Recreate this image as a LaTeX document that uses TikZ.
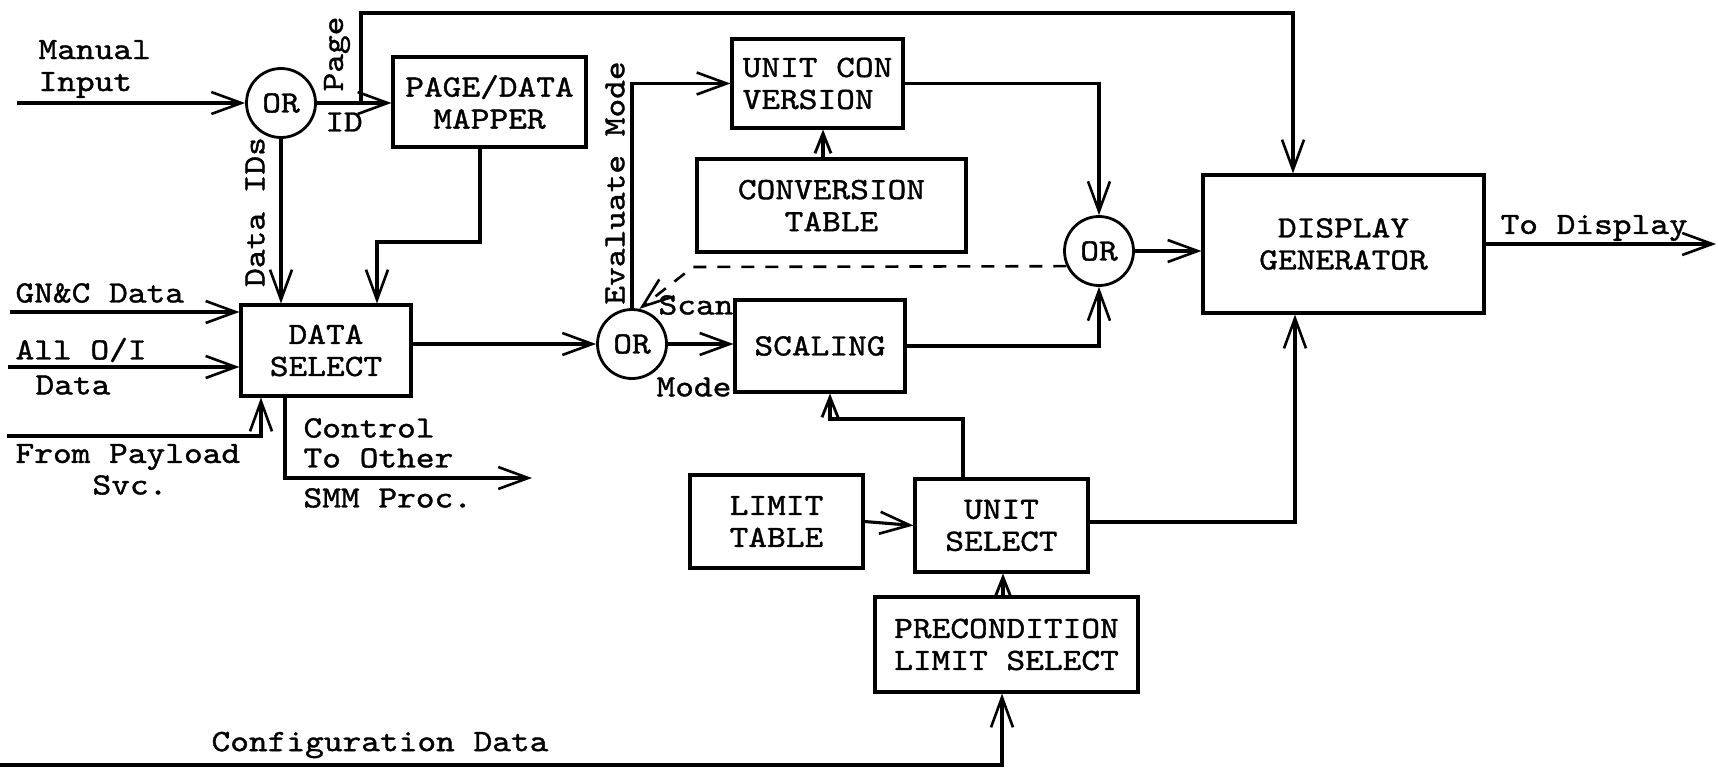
\documentclass[tikz,border=0pt]{standalone}
\usepackage{fontspec}
\newfontfamily\tw{lmmono10-regular.otf}[FakeStretch=1.15,FakeBold=1.2]
\usetikzlibrary{arrows.meta}
\begin{document}
\begin{tikzpicture}[x=1pt,y=-1pt,
  line width=3.1pt,
  every node/.style={font=\tw\fontsize{31}{32}\selectfont, inner sep=0pt},
  blk/.style={draw, line width=3.1pt, align=center},
  orc/.style={draw, circle, minimum size=69pt, line width=2.8pt},
  arr/.style={-{Straight Barb[length=30pt,width=22pt,line width=2.6pt]}},
  sarr/.style={-{Straight Barb[length=20pt,width=16pt,line width=2.8pt]}},
  dsh/.style={dash pattern=on 13pt off 11pt, line width=2.6pt},
  lbl/.style={anchor=west},
]
\useasboundingbox (0,0) rectangle (1718,768);

% blocks
\node[blk, minimum width=193pt, minimum height=90pt] (mapper) at (489.5,102) {PAGE/DATA\\MAPPER};
\node[blk, minimum width=170pt, minimum height=91pt] (dsel) at (326,350.5) {DATA\\SELECT};
\node[blk, minimum width=171pt, minimum height=89pt, align=left] (ucon) at (817.5,83.5) {UNIT CON\\VERSION};
\node[blk, minimum width=269pt, minimum height=93pt] (ctab) at (831.5,205.5) {CONVERSION\\TABLE};
\node[blk, minimum width=170pt, minimum height=92pt] (scal) at (820,346) {SCALING};
\node[blk, minimum width=281pt, minimum height=138pt] (disp) at (1343.5,244) {DISPLAY\\GENERATOR};
\node[blk, minimum width=173pt, minimum height=93pt] (ltab) at (776.5,521.5) {LIMIT\\TABLE};
\node[blk, minimum width=173pt, minimum height=93pt] (usel) at (1001.5,525.5) {UNIT\\SELECT};
\node[blk, minimum width=263pt, minimum height=95pt] (prec) at (1006.5,644.5) {PRECONDITION\\LIMIT SELECT};

% OR gates
\node[orc] (or1) at (281,103) {OR};
\node[orc] (or2) at (632,344) {OR};
\node[orc] (or3) at (1099,251) {OR};

% free ends
\coordinate (mi) at (17,103);
\coordinate (pgbr) at (361,103);
\coordinate (tl) at (361,13);
\coordinate (tr) at (1293,13);
\coordinate (m1) at (480,242);
\coordinate (m2) at (377,242);
\coordinate (gn) at (10,312);
\coordinate (oi) at (8,367);
\coordinate (pl) at (7,436);
\coordinate (pl2) at (261,436);
\coordinate (c1) at (285,478);
\coordinate (c2) at (532,478);
\coordinate (dk) at (693,267);
\coordinate (td) at (1716,244);
\coordinate (u1) at (963,419);
\coordinate (u2) at (830,419);
\coordinate (dg) at (1295,522);
\coordinate (cf) at (0,765);
\coordinate (cf2) at (1002,765);

% connectors
\draw[arr] (mi) -- (or1.west);
\draw[arr] (or1.east) -- (mapper.west |- or1.east);
\draw[arr] (pgbr) -- (tl) -- (tr) -- (tr |- disp.north);
\draw[arr] (or1.south) -- (or1.south |- dsel.north);
\draw[arr] (m1 |- mapper.south) -- (m1) -- (m2) -- (m2 |- dsel.north);
\draw[arr] (gn) -- (gn -| dsel.west);
\draw[arr] (oi) -- (oi -| dsel.west);
\draw[arr] (pl) -- (pl2) -- (pl2 |- dsel.south);
\draw[arr] (c1 |- dsel.south) -- (c1) -- (c2);
\draw[arr] (dsel.east |- or2.west) -- (or2.west);
\draw[arr] (or2.north) -- (or2.north |- ucon.west) -- (ucon.west);
\draw[sarr] (ctab.north -| 823,0) -- (ucon.south -| 823,0);
\draw[arr] (ucon.east) -- (or3.north |- ucon.east) -- (or3.north);
\draw[arr] (scal.east) -- (or3.south |- scal.east) -- (or3.south);
\draw[arr] (or2.east) -- (scal.west |- or2.east);
\draw[arr] (or3.east) -- (disp.west |- or3.east);
\draw[arr, dsh] (or3.205) -- (dk) -- (or2.78);
\draw[arr] (disp.east) -- (td);
\draw[sarr] (u1 |- usel.north) -- (u1) -- (u2) -- (u2 |- scal.south);
\draw[arr] (ltab.east) -- (usel.west);
\draw[arr] (usel.east |- dg) -- (dg) -- (dg |- disp.south);
\draw[sarr] (prec.north -| 1003,0) -- (usel.south -| 1003,0);
\draw[arr] (cf) -- (cf2) -- (cf2 |- prec.south);

% labels
\node[lbl, align=left] (lman) at (37,69) {Manual\\Input};
\node[rotate=90] (lpage) at (337,54) {Page};
\node (lid) at (344,122) {ID};
\node[rotate=90] (ldid) at (255,212) {Data IDs};
\node[lbl] (lgn) at (14,293) {GN\&C Data};
\node[lbl] (loi) at (14,350) {All O/I};
\node[lbl] (loi2) at (34,385) {Data};
\node[lbl] (lpl) at (14,457) {From Payload};
\node[lbl] (lpl2) at (91,485) {Svc.};
\node[lbl] (lc1) at (302,428) {Control};
\node[lbl] (lc2) at (302,458) {To Other};
\node[lbl] (lc3) at (302,498) {SMM Proc.};
\node[rotate=90] (lev) at (615,183) {Evaluate Mode};
\node[lbl] (lscan) at (657,305) {Scan};
\node[lbl] (lmode) at (655,387) {Mode};
\node[lbl] (ltd) at (1499,228) {To Display};
\node (lcfg) at (380,745) {Configuration Data};
\end{tikzpicture}
\end{document}
